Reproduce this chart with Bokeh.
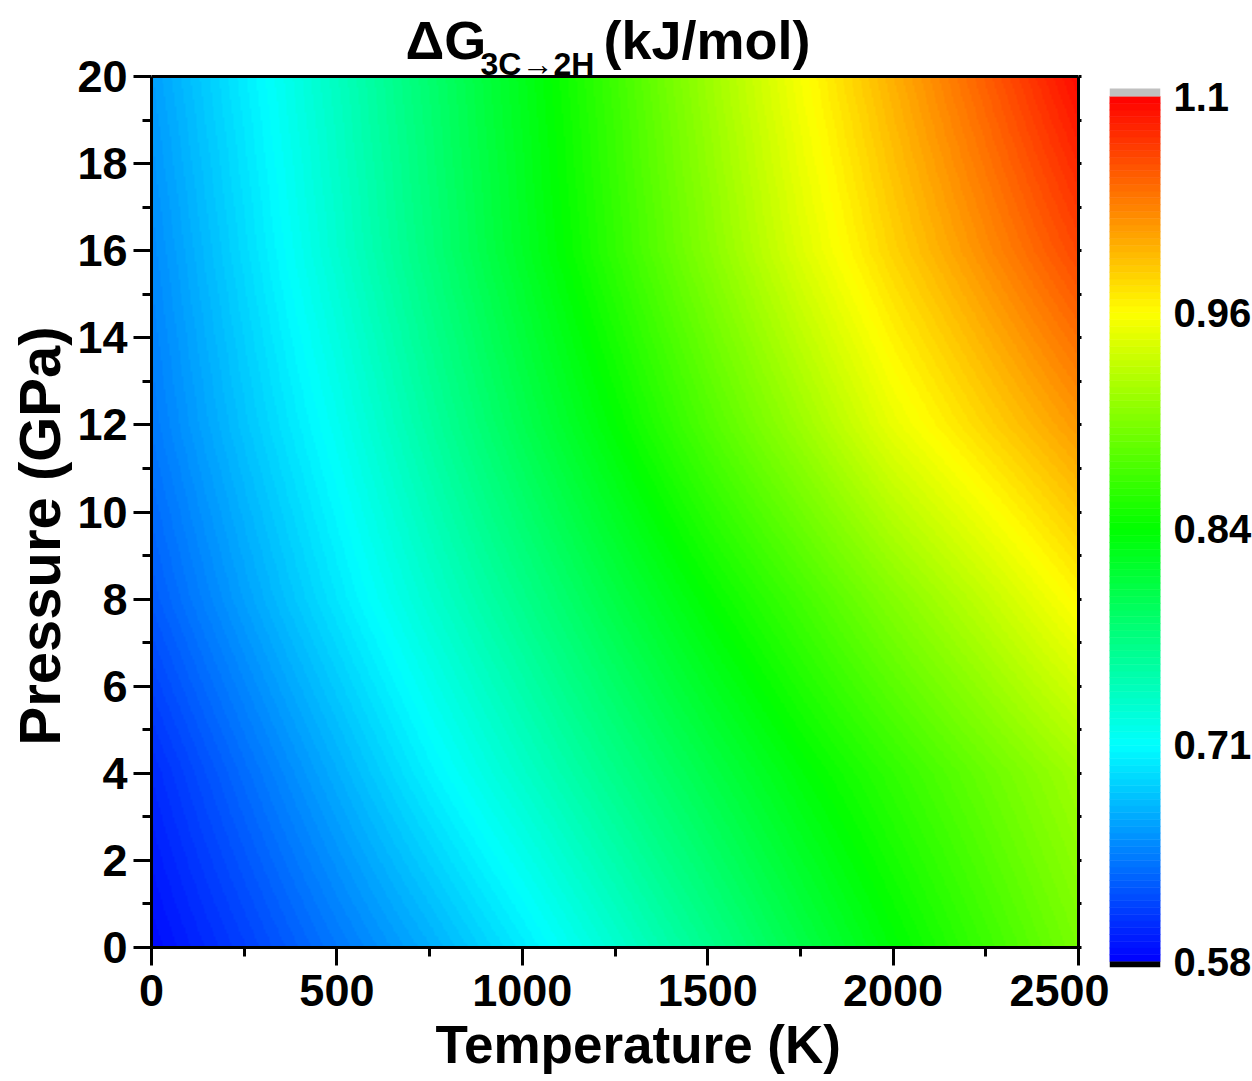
import numpy as np
from bokeh.plotting import figure
from bokeh.layouts import row
from bokeh.models import (LinearColorMapper, FixedTicker, LinearAxis, Label, Range1d, Title)
from bokeh.embed import file_html
from bokeh.resources import INLINE

# ---------------------------------------------------------------
# Free-energy difference dG(3C -> 2H) in kJ/mol on a T-P grid
# ---------------------------------------------------------------
temperature_K = [0, 250, 500, 750, 1000, 1250, 1500, 1750, 2000, 2250, 2500]
pressure_GPa = [0, 4, 8, 12, 16, 20]

dG_P0 = [0.580, 0.607, 0.636, 0.664, 0.695, 0.729, 0.763, 0.798, 0.832, 0.864, 0.896]
dG_P4 = [0.596, 0.630, 0.664, 0.699, 0.732, 0.765, 0.798, 0.830, 0.859, 0.888, 0.917]
dG_P8 = [0.621, 0.657, 0.693, 0.729, 0.764, 0.800, 0.835, 0.868, 0.902, 0.934, 0.968]
dG_P12 = [0.637, 0.675, 0.712, 0.753, 0.794, 0.834, 0.875, 0.914, 0.954, 0.986, 1.017]
dG_P16 = [0.646, 0.687, 0.729, 0.772, 0.815, 0.859, 0.903, 0.947, 0.987, 1.023, 1.059]
dG_P20 = [0.656, 0.696, 0.737, 0.779, 0.821, 0.866, 0.914, 0.961, 1.005, 1.047, 1.090]

x_ticks = [0, 500, 1000, 1500, 2000, 2500]
y_ticks = [0, 2, 4, 6, 8, 10, 12, 14, 16, 18, 20]

cbar_low, cbar_high = 0.575, 1.095
cbar_ticks = [0.575, 0.705, 0.835, 0.965, 1.095]
cbar_tick_labels = ["0.58", "0.71", "0.84", "0.96", "1.1"]

# ---------------------------------------------------------------
# Colour scale: blue - cyan - green - yellow - red, 128 levels
# ---------------------------------------------------------------
N_LEVELS = 128
stops = np.array([[0, 0, 255], [0, 255, 255], [0, 255, 0], [255, 255, 0], [255, 0, 0]], float)
stop_pos = np.linspace(0, 1, len(stops))
centers = (np.arange(N_LEVELS) + 0.5) / N_LEVELS
palette = []
for c in centers:
    rgb = [int(round(np.interp(c, stop_pos, stops[:, k]))) for k in range(3)]
    palette.append("#%02x%02x%02x" % tuple(rgb))

mapper = LinearColorMapper(palette=palette, low=cbar_low, high=cbar_high,
                           low_color="black", high_color="#c0c0c0")

# smooth shading of the grid for display
grid = np.array([dG_P0, dG_P4, dG_P8, dG_P12, dG_P16, dG_P20])
NX, NY = 520, 490
tf = np.linspace(temperature_K[0], temperature_K[-1], NX)
pf = np.linspace(pressure_GPa[0], pressure_GPa[-1], NY)
rows_t = np.array([np.interp(tf, temperature_K, r) for r in grid])
shade = np.array([np.interp(pf, pressure_GPa, rows_t[:, j]) for j in range(NX)]).T
shade = shade.astype(np.float32)

T_MIN, T_MAX = temperature_K[0], temperature_K[-1]
P_MIN, P_MAX = pressure_GPa[0], pressure_GPa[-1]

FONT = "Liberation Sans"
PAGE_H = 1081
FL, FT, FW, FH = 151, 76, 927, 871    # map rectangle in pixels
FRAME_H = FT + FH                     # frame also holds the heading above the map

# ---------------------------------------------------------------
# Main map (frame extends upward to hold the heading)
# ---------------------------------------------------------------
p_per_px = (P_MAX - P_MIN) / FH
p = figure(frame_width=FW, frame_height=FRAME_H,
           x_range=Range1d(T_MIN, T_MAX),
           y_range=Range1d(P_MIN, P_MAX + FT * p_per_px),
           min_border_left=FL, min_border_right=31, min_border_top=0,
           min_border_bottom=PAGE_H - FRAME_H,
           output_backend="svg", toolbar_location=None)
p.grid.visible = False
p.background_fill_color = "white"
p.outline_line_color = None

p.image(image=[shade], x=T_MIN, y=P_MIN, dw=T_MAX - T_MIN, dh=P_MAX - P_MIN,
        color_mapper=mapper)
# upper edge of the map box
p.segment(x0=[T_MIN], y0=[P_MAX], x1=[T_MAX], y1=[P_MAX],
          line_color="black", line_width=3)

def style_axis(ax, ticks, minors):
    ax.ticker = FixedTicker(ticks=ticks, minor_ticks=minors)
    ax.axis_line_width = 3
    ax.major_tick_line_width = 3
    ax.minor_tick_line_width = 3
    ax.major_tick_in = 0
    ax.major_tick_out = 18
    ax.minor_tick_in = 0
    ax.minor_tick_out = 9
    ax.major_label_text_font = FONT
    ax.major_label_text_font_style = "bold"
    ax.major_label_text_font_size = "45px"
    ax.major_label_text_color = "black"

style_axis(p.xaxis[0], x_ticks, [250, 750, 1250, 1750, 2250])
p.xaxis[0].major_label_standoff = 9
style_axis(p.yaxis[0], y_ticks, [1, 3, 5, 7, 9, 11, 13, 15, 17, 19])
p.yaxis[0].major_label_standoff = 6
p.yaxis[0].bounds = (P_MIN, P_MAX)

# right edge of the map box with short marks
right_ax = LinearAxis(ticker=FixedTicker(ticks=[], minor_ticks=list(range(0, 21))),
                      bounds=(P_MIN, P_MAX))
right_ax.axis_line_width = 3
right_ax.minor_tick_in = 0
right_ax.minor_tick_out = 3
right_ax.minor_tick_line_width = 3
right_ax.major_tick_line_color = None
p.add_layout(right_ax, "right")

# axis titles (offset counts from the frame's start edge)
x_title = Title(text="Temperature (K)", align="left", offset=284, standoff=8,
                text_font=FONT, text_font_style="bold", text_font_size="53px",
                text_color="black")
y_title = Title(text="Pressure (GPa)", align="left", offset=202, standoff=6,
                text_font=FONT, text_font_style="bold", text_font_size="58px",
                text_color="black")
p.add_layout(x_title, "below")
p.add_layout(y_title, "left")

# heading: dG with subscript 3C->2H
def px_to_T(px):
    return T_MIN + (px - FL) / FW * (T_MAX - T_MIN)

def px_to_P(py):
    return P_MIN + (FT + FH - py) * p_per_px

def head_text(text, px, baseline, size):
    # anchored on the vertical middle of the text box
    p.add_layout(Label(x=px_to_T(px), y=px_to_P(baseline - 0.3465 * size), text=text,
                       text_font=FONT, text_font_style="bold",
                       text_font_size="%dpx" % size, text_align="left",
                       text_baseline="middle", text_color="black"))

head_text("\u0394G", 405, 58, 54)
head_text("3C\u21922H", 480, 75, 32)
head_text("(kJ/mol)", 603, 58, 54)

# ---------------------------------------------------------------
# Colour bar with under/over-range patches
# ---------------------------------------------------------------
CB_TOP, CB_BOT = 96, 961          # pixel extent of the colour scale
OVER_PX, UNDER_PX = 8, 6
per_px = (cbar_high - cbar_low) / (CB_BOT - CB_TOP)
cb_frame_bot = CB_BOT + UNDER_PX
cb_y_top = cbar_high + CB_TOP * per_px
cb_y_bot = cbar_low - UNDER_PX * per_px

cb = figure(frame_width=51, frame_height=cb_frame_bot,
            x_range=Range1d(0, 1), y_range=Range1d(cb_y_bot, cb_y_top),
            x_axis_location=None, y_axis_location="right",
            min_border_left=0, min_border_right=92, min_border_top=0,
            min_border_bottom=PAGE_H - cb_frame_bot,
            output_backend="svg", toolbar_location=None)
cb.grid.visible = False
cb.outline_line_color = None

edges = np.linspace(cbar_low, cbar_high, N_LEVELS + 1)
cb.quad(left=0, right=1, bottom=edges[:-1], top=edges[1:],
        fill_color=palette, line_color=palette, line_width=0.6)
cb.quad(left=[0], right=[1], bottom=[cbar_high], top=[cbar_high + OVER_PX * per_px],
        fill_color="#c0c0c0", line_color=None)
cb.quad(left=[0], right=[1], bottom=[cb_y_bot], top=[cbar_low],
        fill_color="black", line_color=None)

cax = cb.yaxis[0]
cax.ticker = FixedTicker(ticks=cbar_ticks, minor_ticks=[])
cax.major_label_overrides = dict(zip(cbar_ticks, cbar_tick_labels))
cax.axis_line_color = None
cax.major_tick_line_color = None
cax.minor_tick_line_color = None
cax.major_tick_in = 0
cax.major_tick_out = 0
cax.major_label_standoff = 13
cax.major_label_text_font = FONT
cax.major_label_text_font_style = "bold"
cax.major_label_text_font_size = "40px"
cax.major_label_text_color = "black"

layout = row(p, cb)
open("out.html", "w").write(file_html(layout, INLINE))
